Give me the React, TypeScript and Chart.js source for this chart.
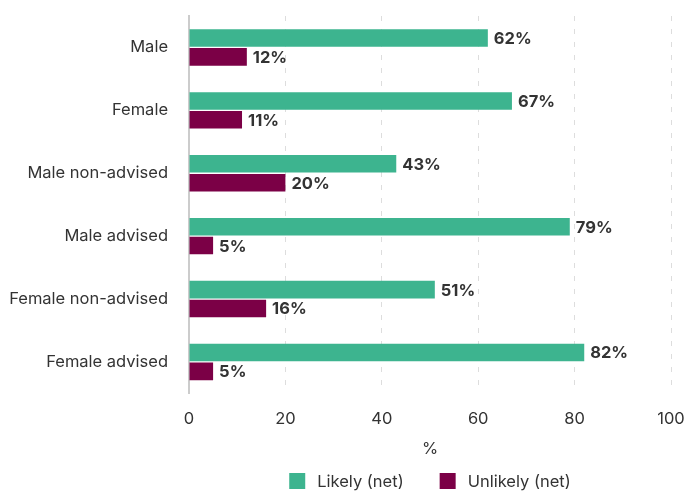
import React, { useEffect, useRef } from "react";
import { Chart, registerables } from "chart.js";

Chart.register(...registerables);

const categories = [
  "Male",
  "Female",
  "Male non-advised",
  "Male advised",
  "Female non-advised",
  "Female advised",
];
const likelyNet = [62, 67, 43, 79, 51, 82];
const unlikelyNet = [12, 11, 20, 5, 16, 5];
const xTicks = [0, 20, 40, 60, 80, 100];

const GREEN = "#3db48f";
const MAROON = "#7b0046";
const TEXT = "#333333";
const FONT = "Inter, 'Noto Sans', sans-serif";
const FS = 16.5;

const valueLabels = {
  id: "valueLabels",
  afterDatasetsDraw(chart: any) {
    const ctx = chart.ctx;
    ctx.save();
    ctx.font = `bold ${FS}px ${FONT}`;
    ctx.fillStyle = TEXT;
    ctx.textAlign = "left";
    ctx.textBaseline = "middle";
    chart.data.datasets.forEach((ds: any, di: number) => {
      const meta = chart.getDatasetMeta(di);
      meta.data.forEach((bar: any, i: number) => {
        ctx.fillText(`${ds.data[i]}%`, bar.x + 6, bar.y + 1);
      });
    });
    ctx.restore();
  },
};

const bottomLegend = {
  id: "bottomLegend",
  afterDraw(chart: any) {
    const ctx = chart.ctx;
    const box = 16;
    const textGap = 12;
    const itemGap = 36;
    const y = 481;
    ctx.save();
    ctx.font = `${FS}px ${FONT}`;
    const items = chart.data.datasets.map((ds: any) => ({
      text: ds.label,
      color: ds.backgroundColor,
      w: ctx.measureText(ds.label).width,
    }));
    const total =
      items.reduce((s: number, it: any) => s + box + textGap + it.w, 0) +
      itemGap * (items.length - 1);
    const cx = (chart.chartArea.left + chart.chartArea.right) / 2;
    let x = cx - total / 2;
    ctx.textBaseline = "middle";
    ctx.textAlign = "left";
    items.forEach((it: any) => {
      ctx.fillStyle = it.color;
      ctx.fillRect(x, y - box / 2, box, box);
      ctx.fillStyle = TEXT;
      ctx.fillText(it.text, x + box + textGap, y + 1);
      x += box + textGap + it.w + itemGap;
    });
    ctx.restore();
  },
};

export default function App() {
  const ref = useRef<HTMLCanvasElement | null>(null);
  useEffect(() => {
    if (!ref.current) return;
    Chart.defaults.font.family = FONT;
    Chart.defaults.color = TEXT;
    const chart = new Chart(ref.current, {
      type: "bar",
      data: {
        labels: categories,
        datasets: [
          {
            label: "Likely (net)",
            data: likelyNet,
            backgroundColor: GREEN,
            categoryPercentage: 0.6,
            barPercentage: 0.93,
          },
          {
            label: "Unlikely (net)",
            data: unlikelyNet,
            backgroundColor: MAROON,
            categoryPercentage: 0.6,
            barPercentage: 0.93,
          },
        ],
      },
      options: {
        indexAxis: "y",
        animation: false,
        responsive: false,
        layout: { padding: { top: 16, right: 17, left: 8, bottom: 28 } },
        scales: {
          x: {
            min: 0,
            max: 100,
            afterBuildTicks: (scale: any) => {
              scale.ticks = xTicks.map((v) => ({ value: v }));
            },
            afterFit: (scale: any) => {
              scale.paddingLeft = 0;
              scale.paddingRight = 0;
            },
            grid: {
              color: (c: any) => (c.tick && c.tick.value === 0 ? "rgba(0,0,0,0)" : "#dddddd"),
              lineWidth: 1,
              drawTicks: false,
            },
            border: { display: false, dash: [5, 8] },
            ticks: { padding: 16, font: { size: FS }, color: TEXT },
            title: {
              display: true,
              text: "%",
              font: { size: FS },
              color: TEXT,
              padding: { top: -6, bottom: 4 },
            },
          },
          y: {
            grid: { display: false },
            border: { display: true, color: "#cccccc", width: 2 },
            ticks: { padding: 13, font: { size: FS }, color: TEXT },
            afterFit: (scale: any) => {
              scale.width = 181;
              scale.paddingTop = 0;
              scale.paddingBottom = 0;
            },
          },
        },
        plugins: {
          legend: { display: false },
          tooltip: { enabled: false },
        },
      },
      plugins: [valueLabels, bottomLegend],
    });
    return () => chart.destroy();
  }, []);
  return (
    <div style={{ position: "absolute", left: 0, top: 0, width: 688, height: 491, background: "#fff" }}>
      <canvas ref={ref} width={688} height={491} style={{ display: "block" }} />
    </div>
  );
}
